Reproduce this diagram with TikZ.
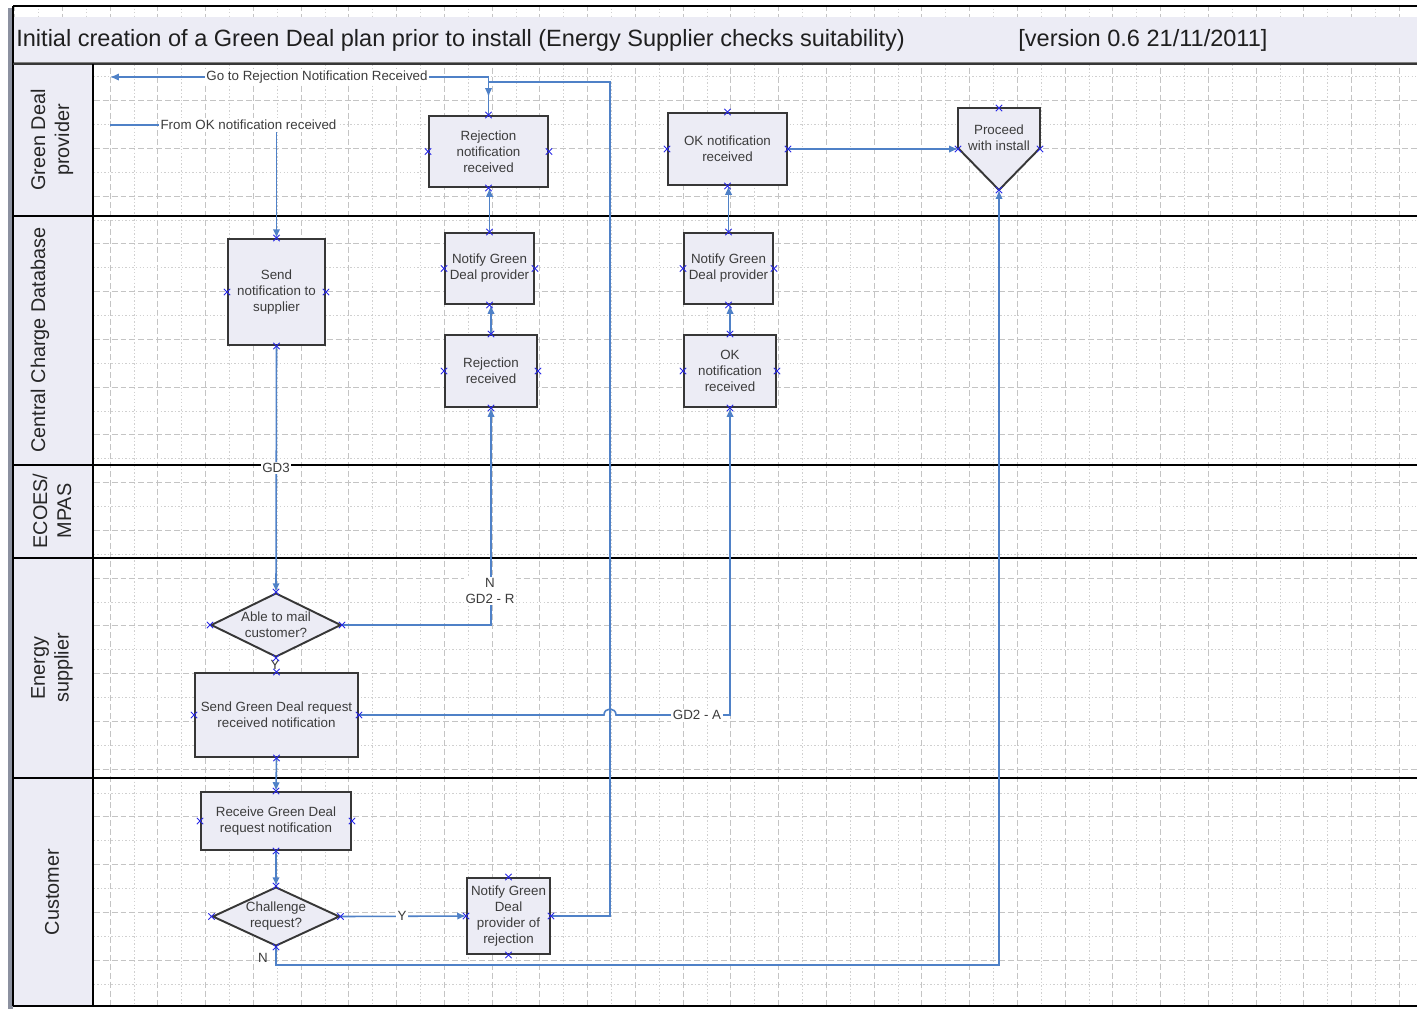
\documentclass[tikz,border=0pt]{standalone}
\usepackage{fontspec}
\setmainfont{Liberation Sans}
\usetikzlibrary{arrows.meta,shapes.geometric}
\definecolor{lav}{RGB}{236,236,245}
\definecolor{conn}{RGB}{79,129,199}
\definecolor{gridc}{RGB}{196,196,196}
\definecolor{txt}{RGB}{60,60,60}
\definecolor{boxc}{RGB}{55,55,55}
\definecolor{cpc}{RGB}{40,40,230}
\definecolor{barc}{RGB}{140,145,160}
\newcommand\nodefnt{\fontsize{7.6pt}{9.1pt}\selectfont}
\newcommand\lanefnt{\fontsize{11.3pt}{13.6pt}\selectfont}
\begin{document}
\begin{tikzpicture}[x=0.02cm,y=-0.02cm,
  sz/.style 2 args={minimum width=#1*0.02cm,minimum height=#2*0.02cm},
  box/.style={rectangle,draw=boxc,line width=1.1pt,fill=lav,align=center,text=txt,font=\nodefnt,inner sep=0pt},
  dia/.style={diamond,shape aspect=2,draw=boxc,line width=1.1pt,fill=lav,align=center,text=txt,font=\nodefnt,inner sep=0pt},
  boxline/.style={draw=boxc,line width=1.1pt,fill=lav},
  wire/.style={draw=conn,line width=0.9pt},
  arr/.style={-{Latex[length=5pt,width=4.2pt]}},
  lbl/.style={fill=white,inner sep=1pt,text=txt,font=\nodefnt,align=center},
  lanelbl/.style={rotate=90,align=center,font=\lanefnt,text=black!85},
  majg/.style={draw=gridc,line width=0.5pt,dash pattern=on 3.4pt off 1.7pt},
  ming/.style={draw=gridc!80,line width=0.4pt,dash pattern=on 0.8pt off 1.2pt},
  cpt/.pic={\draw[cpc,line width=0.5pt] (-3.2,-3.2)--(3.2,3.2) (-3.2,3.2)--(3.2,-3.2);}
]
\useasboundingbox (0,0) rectangle (1417,1009);
\fill[white] (0,0) rectangle (1417,1009);
% grid
\begin{scope}
\clip (13,6) rectangle (1417,1006);
\foreach \i in {0,...,29}{
  \draw[majg] ({14.5+\i*47.75},5) -- ({14.5+\i*47.75},1006);
  \draw[ming] ({38.375+\i*47.75},5) -- ({38.375+\i*47.75},1006);
}
\foreach \j in {0,...,20}{
  \draw[majg] (13,{5+\j*47.75}) -- (1417,{5+\j*47.75});
  \draw[ming] (13,{28.875+\j*47.75}) -- (1417,{28.875+\j*47.75});
}
\end{scope}
% frame and title band
\fill[barc] (8,8) rectangle (12.5,1009);
\draw[black,line width=1.1pt] (13,6) -- (1417,6);
\draw[black,line width=0.8pt] (13,6) -- (13,1006);
\fill[lav] (13.5,17) rectangle (1417,62);
\draw[gray,line width=0.8pt] (13.5,62.5) -- (1417,62.5);
\node[anchor=west,font=\fontsize{13.4pt}{16pt}\selectfont,text=black!88,inner sep=0pt] (title) at (16,40) {Initial creation of a Green Deal plan prior to install (Energy Supplier checks suitability)};
\node[anchor=west,font=\fontsize{13.4pt}{16pt}\selectfont,text=black!88,inner sep=0pt] (version) at (1018,40) {[version 0.6 21/11/2011]};
% lanes
\fill[lav] (13.5,64) rectangle (93,1006);
\draw[boxc,line width=1pt] (13,64) -- (1417,64);
\foreach \yy in {216,465,558,778,1006}{
  \draw[black,line width=1.1pt] (13,\yy) -- (1417,\yy);
}
\draw[black,line width=1pt] (93,64) -- (93,1006);
\node[lanelbl] (l1) at (52,140) {Green Deal\\provider};
\node[lanelbl] (l2) at (40,340) {Central Charge Database};
\node[lanelbl] (l3) at (52,511) {ECOES/\\MPAS};
\node[lanelbl] (l4) at (52,668) {Energy\\supplier};
\node[lanelbl] (l5) at (52,892) {Customer};
% nodes
\node[box,sz={119}{71}] (rnr) at (488.5,151.5) {Rejection\\notification\\received};
\node[box,sz={119}{72}] (okt) at (727.5,149) {OK notification\\received};
\node[box,sz={97}{106}] (snd) at (276.5,292) {Send\\notification to\\supplier};
\node[box,sz={89}{71}] (ngr) at (489.5,268.5) {Notify Green\\Deal provider};
\node[box,sz={92}{72}] (rjr) at (491,371) {Rejection\\received};
\node[box,sz={89}{71}] (ngo) at (728.5,268.5) {Notify Green\\Deal provider};
\node[box,sz={92}{72}] (okc) at (730,371) {OK\\notification\\received};
\node[dia,sz={130}{64}] (abl) at (276,625) {Able to mail\\customer?};
\node[box,sz={163}{84}] (sgd) at (276.5,715) {Send Green Deal request\\received notification};
\node[box,sz={150}{58}] (rcv) at (276,821) {Receive Green Deal\\request notification};
\node[dia,sz={127}{59}] (chl) at (276,916.5) {Challenge\\request?};
\node[box,sz={83}{76}] (ngj) at (508.5,916) {Notify Green\\Deal\\provider of\\rejection};
\draw[boxline] (958,108) -- (1040,108) -- (1040,148) -- (999,190) -- (958,148) -- cycle;
\node[align=center,text=txt,font=\nodefnt,inner sep=0pt] (pwi) at (999,138) {Proceed\\with install};
\coordinate (pwiN) at (999,108);
\coordinate (pwiS) at (999,190);
\coordinate (pwiW) at (958,149);
\coordinate (pwiE) at (1040,149);
% free ends
\coordinate (gotoL) at (110,77);
\coordinate (gotoJ) at (488.5,77);
\coordinate (gotoE) at (488.5,97);
\coordinate (fromL) at (110,125);
% connectors
\draw[wire] (ngj.east) -| (610,82) -| (rnr.north);
\draw[wire,{Latex[length=5pt,width=4.2pt]}-{Latex[length=5pt,width=4.2pt]}] (gotoL) -- (gotoJ) -- (gotoE);
\node[lbl] (goto) at (317,77) {Go to Rejection Notification Received};
\draw[wire,arr] (fromL) -| (snd.north);
\node[lbl] (fromok) at (248.5,125) {From OK notification received};
\draw[wire,arr] (snd.south) -- (abl.north);
\node[lbl] (gd3) at (276,468) {GD3};
\draw[wire,arr] (abl.south) -- (sgd.north);
\node[lbl] (ylab) at (275,665) {Y};
\draw[wire,arr] (sgd.south) -- (rcv.north);
\draw[wire,arr] (rcv.south) -- (chl.north);
\draw[wire,arr] (chl.east) -- (ngj.west);
\node[lbl] (ylab2) at (402,916) {Y};
\draw[wire,arr] (abl.east) -| (rjr.south);
\node[lbl] (gd2r) at (490,591) {N\\GD2 - R};
\draw[wire,arr] (rjr.north) -- (rjr.north |- ngr.south);
\draw[wire,arr] (ngr.north) -- (ngr.north |- rnr.south);
\draw[wire,arr] (okc.north) -- (okc.north |- ngo.south);
\draw[wire,arr] (ngo.north) -- (ngo.north |- okt.south);
\draw[wire,arr] (okt.east) -- (pwiW);
\draw[wire,arr] (sgd.east) -- (604,715) .. controls (604,707) and (616,707) .. (616,715) -| (okc.south);
\node[lbl] (gd2a) at (697,715) {GD2 - A};
\draw[wire,arr] (chl.south) |- (999,965) -- (pwiS);
\node[lbl,fill=none] (nlab) at (263,958) {N};
% connection points
\foreach \n in {rnr,okt,snd,ngr,rjr,ngo,okc,abl,sgd,rcv,chl,ngj}{
  \foreach \a in {north,south,east,west}{
    \pic at (\n.\a) {cpt};
  }
}
\foreach \c in {pwiN,pwiS,pwiW,pwiE}{
  \pic at (\c) {cpt};
}
\end{tikzpicture}
\end{document}
